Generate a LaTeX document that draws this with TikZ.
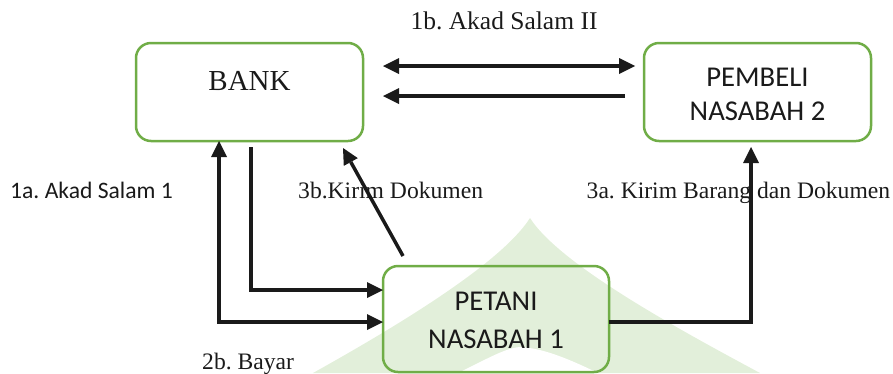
\documentclass[tikz,border=0pt]{standalone}
\usepackage{fontspec}
\setmainfont{Liberation Serif}
\newfontfamily\carlito{Carlito}
\usetikzlibrary{arrows.meta}
\definecolor{boxgreen}{RGB}{112,173,71}
\definecolor{wmgreen}{RGB}{226,239,218}
\definecolor{ink}{RGB}{26,26,26}
\frenchspacing
\begin{document}
\begin{tikzpicture}[x=1pt,y=-1pt,
  box/.style={draw=boxgreen, line width=2.5pt, rounded corners=15pt, minimum width=227pt, minimum height=98pt, inner sep=0pt, outer sep=0pt},
  tip/.tip={Triangle[length=16pt,width=16pt,line width=0pt]},
  arr/.style={draw=ink, line width=3.5pt, -tip},
  darr/.style={draw=ink, line width=3.5pt, tip-tip},
  lbl/.style={inner sep=0pt, text=ink, font=\fontsize{23.6}{28}\selectfont},
  boxtxt/.style={inner sep=0pt, text=ink, anchor=base}]
\useasboundingbox (0,0) rectangle (893,373);
% watermark
\fill[wmgreen] (313,373) .. controls (390,330) and (500,265) .. (530,218)
  .. controls (560,265) and (680,330) .. (760,373) -- cycle;
\fill[white] (458,373) .. controls (485,360) and (505,348) .. (520,347)
  .. controls (545,348) and (575,362) .. (598,373) -- cycle;
% boxes
\node[box] (bank) at (249.5,92) {};
\node[box] (pembeli) at (757.5,92) {};
\node[box, minimum width=226pt, minimum height=106pt] (petani) at (496,319) {};
% box texts
\node[boxtxt, font=\fontsize{29}{34}\selectfont] (bankt) at ([yshift=-47.7pt]bank.north) {BANK};
\node[boxtxt, font=\carlito\fontsize{28.7}{34}\selectfont] (pembt1) at ([yshift=-43pt]pembeli.north) {PEMBELI};
\node[boxtxt, font=\carlito\fontsize{28.7}{34}\selectfont] (pembt2) at ([yshift=-77.7pt]pembeli.north) {NASABAH 2};
\node[boxtxt, font=\carlito\fontsize{28.7}{34}\selectfont] (pett1) at ([yshift=-44pt]petani.north) {PETANI};
\node[boxtxt, font=\carlito\fontsize{28.7}{34}\selectfont] (pett2) at ([yshift=-82.3pt]petani.north) {NASABAH 1};
% labels
\node[lbl, font=\fontsize{25.5}{30}\selectfont, anchor=base] (l1b) at (504,29) {1b. Akad Salam II};
\node[lbl, font=\carlito\fontsize{23.6}{28}\selectfont, anchor=base west] (l1a) at (10,198) {1a. Akad Salam 1};
\node[lbl, anchor=base west] (l3b) at (298,198) {3b.Kirim Dokumen};
\node[lbl, anchor=base west] (l3a) at (586.5,198) {3a. Kirim Barang dan Dokumen};
\node[lbl, anchor=base west] (l2b) at (202,369) {2b. Bayar};
% connectors
\draw[darr] ([xshift=20pt,yshift=-23pt]bank.north east) -- ([xshift=-9pt,yshift=-23pt]pembeli.north west);
\draw[arr] ([xshift=-19pt,yshift=-53pt]pembeli.north west) -- ([xshift=20pt,yshift=-53pt]bank.north east);
\draw[darr] ([xshift=83pt]bank.south west) |- ([yshift=-3pt]petani.west);
\draw[arr] ([xshift=115pt,yshift=-6pt]bank.south west) |- ([yshift=29pt]petani.west);
\draw[arr] ([xshift=20pt,yshift=10pt]petani.north west) -- ([xshift=-20pt,yshift=-7pt]bank.south east);
\draw[arr] ([yshift=-3pt]petani.east) -| ([xshift=107pt,yshift=-6pt]pembeli.south west);
\end{tikzpicture}
\end{document}
